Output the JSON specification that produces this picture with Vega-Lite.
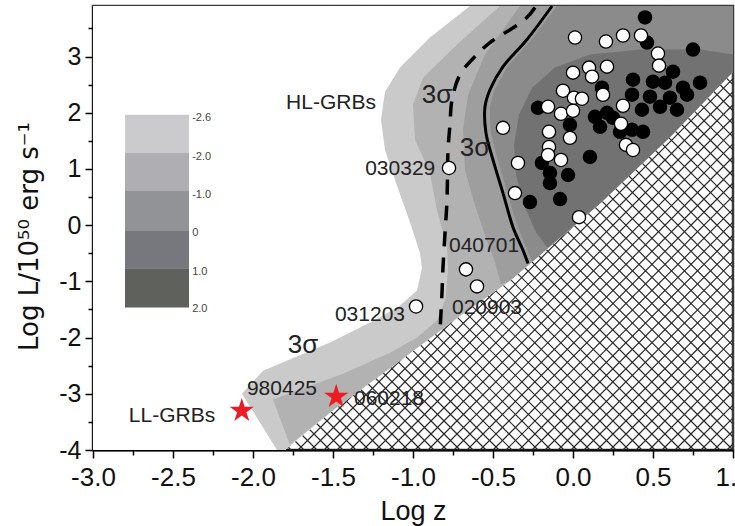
{
 "$schema": "https://vega.github.io/schema/vega-lite/v6.json",
 "width": 640, "height": 444,
 "autosize": {"type": "none"},
 "padding": {"left": 93, "top": 6, "right": 2, "bottom": 76},
 "background": "white",
 "config": {"view": {"stroke": "#3a3a3a", "strokeWidth": 2.5}, "font": "Liberation Sans"},
 "resolve": {"axis": {"x": "independent", "y": "independent"}},
 "datasets": {
  "polyData": [
   {"band":"w","i":0,"x":-3,"y":3.9},{"band":"w","i":1,"x":-3,"y":-4},{"band":"w","i":2,"x":-1.8,"y":-4},{"band":"w","i":3,"x":-1.49,"y":-3.27},{"band":"w","i":4,"x":-1.1,"y":-2.45},{"band":"w","i":5,"x":-0.71,"y":-1.62},{"band":"w","i":6,"x":-0.39,"y":-0.98},{"band":"w","i":7,"x":0.17,"y":0.39},{"band":"w","i":8,"x":0.6,"y":1.55},{"band":"w","i":9,"x":1.0,"y":2.73},{"band":"w","i":10,"x":1.0,"y":3.9},
   {"band":"b1","i":0,"x":-0.644,"y":3.9},{"band":"b1","i":1,"x":-0.894,"y":3.339},{"band":"b1","i":2,"x":-1.081,"y":2.804},{"band":"b1","i":3,"x":-1.175,"y":2.375},{"band":"b1","i":4,"x":-1.2,"y":1.875},{"band":"b1","i":5,"x":-1.175,"y":1.339},{"band":"b1","i":6,"x":-1.1125,"y":0.804},{"band":"b1","i":7,"x":-1.019,"y":0.054},{"band":"b1","i":8,"x":-0.956,"y":-0.5},{"band":"b1","i":9,"x":-0.944,"y":-0.768},{"band":"b1","i":10,"x":-0.975,"y":-1.16},{"band":"b1","i":11,"x":-1.081,"y":-1.43},{"band":"b1","i":12,"x":-1.206,"y":-1.643},{"band":"b1","i":13,"x":-1.519,"y":-2.089},{"band":"b1","i":14,"x":-1.9375,"y":-2.589},{"band":"b1","i":15,"x":-2.069,"y":-3.0},{"band":"b1","i":16,"x":-1.85,"y":-4},{"band":"b1","i":17,"x":-1.8,"y":-4},{"band":"b1","i":18,"x":-1.49,"y":-3.27},{"band":"b1","i":19,"x":-1.1,"y":-2.45},{"band":"b1","i":20,"x":-0.71,"y":-1.62},{"band":"b1","i":21,"x":-0.39,"y":-0.98},{"band":"b1","i":22,"x":0.17,"y":0.39},{"band":"b1","i":23,"x":0.6,"y":1.55},{"band":"b1","i":24,"x":1.0,"y":2.73},{"band":"b1","i":25,"x":1.0,"y":3.9},
   {"band":"b2","i":0,"x":-0.456,"y":3.9},{"band":"b2","i":1,"x":-0.725,"y":3.214},{"band":"b2","i":2,"x":-0.9375,"y":2.625},{"band":"b2","i":3,"x":-1.0,"y":2.143},{"band":"b2","i":4,"x":-0.9875,"y":1.518},{"band":"b2","i":5,"x":-0.894,"y":0.929},{"band":"b2","i":6,"x":-0.85,"y":0.268},{"band":"b2","i":7,"x":-0.7875,"y":-0.393},{"band":"b2","i":8,"x":-0.781,"y":-0.75},{"band":"b2","i":9,"x":-0.794,"y":-1.286},{"band":"b2","i":10,"x":-0.85,"y":-1.696},{"band":"b2","i":11,"x":-0.975,"y":-2.0},{"band":"b2","i":12,"x":-1.144,"y":-2.27},{"band":"b2","i":13,"x":-1.4375,"y":-2.643},{"band":"b2","i":14,"x":-1.875,"y":-3.1},{"band":"b2","i":15,"x":-1.77,"y":-3.9},{"band":"b2","i":16,"x":-1.49,"y":-3.27},{"band":"b2","i":17,"x":-1.1,"y":-2.45},{"band":"b2","i":18,"x":-0.71,"y":-1.62},{"band":"b2","i":19,"x":-0.39,"y":-0.98},{"band":"b2","i":20,"x":0.17,"y":0.39},{"band":"b2","i":21,"x":0.6,"y":1.55},{"band":"b2","i":22,"x":1.0,"y":2.73},{"band":"b2","i":23,"x":1.0,"y":3.9},
   {"band":"b3","i":0,"x":-0.331,"y":3.9},{"band":"b3","i":1,"x":-0.55,"y":3.036},{"band":"b3","i":2,"x":-0.656,"y":2.321},{"band":"b3","i":3,"x":-0.6875,"y":1.696},{"band":"b3","i":4,"x":-0.675,"y":0.982},{"band":"b3","i":5,"x":-0.6125,"y":0.357},{"band":"b3","i":6,"x":-0.55,"y":-0.179},{"band":"b3","i":7,"x":-0.4875,"y":-0.661},{"band":"b3","i":8,"x":-0.45,"y":-1.05},{"band":"b3","i":9,"x":-0.39,"y":-0.98},{"band":"b3","i":10,"x":0.17,"y":0.39},{"band":"b3","i":11,"x":0.6,"y":1.55},{"band":"b3","i":12,"x":1.0,"y":2.73},{"band":"b3","i":13,"x":1.0,"y":3.9},
   {"band":"b4","i":0,"x":-0.1,"y":3.9},{"band":"b4","i":1,"x":-0.26,"y":3.304},{"band":"b4","i":2,"x":-0.41,"y":2.821},{"band":"b4","i":3,"x":-0.49,"y":2.41},{"band":"b4","i":4,"x":-0.52,"y":2.107},{"band":"b4","i":5,"x":-0.514,"y":1.643},{"band":"b4","i":6,"x":-0.47,"y":1.161},{"band":"b4","i":7,"x":-0.41,"y":0.571},{"band":"b4","i":8,"x":-0.345,"y":-0.036},{"band":"b4","i":9,"x":-0.285,"y":-0.446},{"band":"b4","i":10,"x":-0.255,"y":-0.65},{"band":"b4","i":11,"x":0.17,"y":0.39},{"band":"b4","i":12,"x":0.6,"y":1.55},{"band":"b4","i":13,"x":1.0,"y":2.73},{"band":"b4","i":14,"x":1.0,"y":3.9},
   {"band":"b5","i":0,"x":1.0,"y":3.036},{"band":"b5","i":1,"x":0.794,"y":3.125},{"band":"b5","i":2,"x":0.419,"y":3.125},{"band":"b5","i":3,"x":0.106,"y":3.036},{"band":"b5","i":4,"x":-0.1125,"y":2.804},{"band":"b5","i":5,"x":-0.256,"y":2.446},{"band":"b5","i":6,"x":-0.3375,"y":1.964},{"band":"b5","i":7,"x":-0.369,"y":1.429},{"band":"b5","i":8,"x":-0.356,"y":0.893},{"band":"b5","i":9,"x":-0.306,"y":0.357},{"band":"b5","i":10,"x":-0.231,"y":-0.125},{"band":"b5","i":11,"x":-0.16,"y":-0.4},{"band":"b5","i":12,"x":0.17,"y":0.39},{"band":"b5","i":13,"x":0.6,"y":1.55},{"band":"b5","i":14,"x":1.0,"y":2.73}
  ],
  "curveData": [
   {"line":"dash","i":0,"x":-0.2375,"y":3.875},{"line":"dash","i":1,"x":-0.3,"y":3.661},{"line":"dash","i":2,"x":-0.519,"y":3.25},{"line":"dash","i":3,"x":-0.6,"y":3.036},{"line":"dash","i":4,"x":-0.706,"y":2.679},{"line":"dash","i":5,"x":-0.756,"y":2.232},{"line":"dash","i":6,"x":-0.769,"y":1.786},{"line":"dash","i":7,"x":-0.781,"y":1.339},{"line":"dash","i":8,"x":-0.7875,"y":0.446},{"line":"dash","i":9,"x":-0.8,"y":-0.143},{"line":"dash","i":10,"x":-0.8125,"y":-0.75},{"line":"dash","i":11,"x":-0.819,"y":-1.214},{"line":"dash","i":12,"x":-0.831,"y":-1.875},
   {"line":"solid","i":0,"x":-0.131,"y":3.9},{"line":"solid","i":1,"x":-0.2875,"y":3.304},{"line":"solid","i":2,"x":-0.4375,"y":2.821},{"line":"solid","i":3,"x":-0.519,"y":2.41},{"line":"solid","i":4,"x":-0.55,"y":2.107},{"line":"solid","i":5,"x":-0.544,"y":1.643},{"line":"solid","i":6,"x":-0.5,"y":1.161},{"line":"solid","i":7,"x":-0.4375,"y":0.571},{"line":"solid","i":8,"x":-0.375,"y":-0.036},{"line":"solid","i":9,"x":-0.3125,"y":-0.446},{"line":"solid","i":10,"x":-0.281,"y":-0.68}
  ],
  "hatchLines": [
   {"x":-1.8,"y":-4,"x2":0.965,"y2":3.9},{"x":-1.71875,"y":-4,"x2":1,"y2":3.768},{"x":-1.6375,"y":-4,"x2":1,"y2":3.536},{"x":-1.55625,"y":-4,"x2":1,"y2":3.304},{"x":-1.475,"y":-4,"x2":1,"y2":3.071},{"x":-1.39375,"y":-4,"x2":1,"y2":2.839},{"x":-1.3125,"y":-4,"x2":1,"y2":2.607},{"x":-1.23125,"y":-4,"x2":1,"y2":2.375},{"x":-1.15,"y":-4,"x2":1,"y2":2.143},{"x":-1.06875,"y":-4,"x2":1,"y2":1.911},{"x":-0.9875,"y":-4,"x2":1,"y2":1.679},{"x":-0.90625,"y":-4,"x2":1,"y2":1.446},{"x":-0.825,"y":-4,"x2":1,"y2":1.214},{"x":-0.74375,"y":-4,"x2":1,"y2":0.982},{"x":-0.6625,"y":-4,"x2":1,"y2":0.75},{"x":-0.58125,"y":-4,"x2":1,"y2":0.518},{"x":-0.5,"y":-4,"x2":1,"y2":0.286},{"x":-0.41875,"y":-4,"x2":1,"y2":0.054},{"x":-0.3375,"y":-4,"x2":1,"y2":-0.179},{"x":-0.25625,"y":-4,"x2":1,"y2":-0.411},{"x":-0.175,"y":-4,"x2":1,"y2":-0.643},{"x":-0.09375,"y":-4,"x2":1,"y2":-0.875},{"x":-0.0125,"y":-4,"x2":1,"y2":-1.107},{"x":0.06875,"y":-4,"x2":1,"y2":-1.339},{"x":0.15,"y":-4,"x2":1,"y2":-1.571},{"x":0.23125,"y":-4,"x2":1,"y2":-1.804},{"x":0.3125,"y":-4,"x2":1,"y2":-2.036},{"x":0.39375,"y":-4,"x2":1,"y2":-2.268},{"x":0.475,"y":-4,"x2":1,"y2":-2.5},{"x":0.55625,"y":-4,"x2":1,"y2":-2.732},{"x":0.6375,"y":-4,"x2":1,"y2":-2.964},{"x":0.71875,"y":-4,"x2":1,"y2":-3.196},{"x":0.8,"y":-4,"x2":1,"y2":-3.429},{"x":0.88125,"y":-4,"x2":1,"y2":-3.661},{"x":0.9625,"y":-4,"x2":1,"y2":-3.893},
   {"x":1.0,"y":-4,"x2":-1.775,"y2":3.9},{"x":0.91875,"y":-4,"x2":-1.85625,"y2":3.9},{"x":0.8375,"y":-4,"x2":-1.9375,"y2":3.9},{"x":0.75625,"y":-4,"x2":-2.01875,"y2":3.9},{"x":0.675,"y":-4,"x2":-2.1,"y2":3.9},{"x":0.59375,"y":-4,"x2":-2.18125,"y2":3.9},{"x":0.5125,"y":-4,"x2":-2.2625,"y2":3.9},{"x":0.43125,"y":-4,"x2":-2.34375,"y2":3.9},{"x":0.35,"y":-4,"x2":-2.425,"y2":3.9},{"x":0.26875,"y":-4,"x2":-2.50625,"y2":3.9},{"x":0.1875,"y":-4,"x2":-2.5875,"y2":3.9},{"x":0.10625,"y":-4,"x2":-2.66875,"y2":3.9},{"x":0.025,"y":-4,"x2":-2.75,"y2":3.9},{"x":-0.05625,"y":-4,"x2":-2.83125,"y2":3.9},{"x":-0.1375,"y":-4,"x2":-2.9125,"y2":3.9},{"x":-0.21875,"y":-4,"x2":-2.99375,"y2":3.9},{"x":-0.3,"y":-4,"x2":-3,"y2":3.714},{"x":-0.38125,"y":-4,"x2":-3,"y2":3.482},{"x":-0.4625,"y":-4,"x2":-3,"y2":3.25},{"x":-0.54375,"y":-4,"x2":-3,"y2":3.018},{"x":-0.625,"y":-4,"x2":-3,"y2":2.786},{"x":-0.70625,"y":-4,"x2":-3,"y2":2.554},{"x":-0.7875,"y":-4,"x2":-3,"y2":2.321},{"x":-0.86875,"y":-4,"x2":-3,"y2":2.089},{"x":-0.95,"y":-4,"x2":-3,"y2":1.857},{"x":-1.03125,"y":-4,"x2":-3,"y2":1.625},{"x":-1.1125,"y":-4,"x2":-3,"y2":1.393},{"x":-1.19375,"y":-4,"x2":-3,"y2":1.161},{"x":-1.275,"y":-4,"x2":-3,"y2":0.929},{"x":-1.35625,"y":-4,"x2":-3,"y2":0.696},{"x":-1.4375,"y":-4,"x2":-3,"y2":0.464},{"x":-1.51875,"y":-4,"x2":-3,"y2":0.232},{"x":-1.6,"y":-4,"x2":-3,"y2":0.0},{"x":-1.68125,"y":-4,"x2":-3,"y2":-0.232},{"x":-1.7625,"y":-4,"x2":-3,"y2":-0.464},
   {"x":1,"y":-3.768,"x2":-1.684,"y2":3.9},{"x":1,"y":-3.536,"x2":-1.603,"y2":3.9},{"x":1,"y":-3.304,"x2":-1.521,"y2":3.9},{"x":1,"y":-3.071,"x2":-1.44,"y2":3.9},{"x":1,"y":-2.839,"x2":-1.359,"y2":3.9},{"x":1,"y":-2.607,"x2":-1.277,"y2":3.9},{"x":1,"y":-2.375,"x2":-1.196,"y2":3.9},{"x":1,"y":-2.143,"x2":-1.115,"y2":3.9},{"x":1,"y":-1.911,"x2":-1.034,"y2":3.9},{"x":1,"y":-1.679,"x2":-0.953,"y2":3.9},{"x":1,"y":-1.446,"x2":-0.871,"y2":3.9},{"x":1,"y":-1.214,"x2":-0.79,"y2":3.9},{"x":1,"y":-0.982,"x2":-0.709,"y2":3.9},{"x":1,"y":-0.75,"x2":-0.628,"y2":3.9},{"x":1,"y":-0.518,"x2":-0.546,"y2":3.9},{"x":1,"y":-0.286,"x2":-0.465,"y2":3.9},{"x":1,"y":-0.054,"x2":-0.384,"y2":3.9},{"x":1,"y":0.179,"x2":-0.302,"y2":3.9},{"x":1,"y":0.411,"x2":-0.221,"y2":3.9},{"x":1,"y":0.643,"x2":-0.14,"y2":3.9},{"x":1,"y":0.875,"x2":-0.059,"y2":3.9},{"x":1,"y":1.107,"x2":0.022,"y2":3.9},{"x":1,"y":1.339,"x2":0.104,"y2":3.9},{"x":1,"y":1.571,"x2":0.185,"y2":3.9},{"x":1,"y":1.804,"x2":0.266,"y2":3.9},{"x":1,"y":2.036,"x2":0.348,"y2":3.9},{"x":1,"y":2.268,"x2":0.429,"y2":3.9},{"x":1,"y":2.5,"x2":0.51,"y2":3.9},{"x":1,"y":2.732,"x2":0.591,"y2":3.9}
  ],
  "blackPts": [
   {"x":0.45,"y":3.696},{"x":0.4625,"y":3.25},{"x":0.75,"y":3.125},{"x":0.625,"y":2.732},{"x":0.375,"y":2.589},{"x":0.5,"y":2.554},{"x":0.575,"y":2.536},{"x":0.6875,"y":2.446},{"x":0.794,"y":2.536},{"x":0.181,"y":2.446},{"x":0.369,"y":2.321},{"x":0.481,"y":2.286},{"x":0.606,"y":2.268},{"x":-0.219,"y":2.089},{"x":0.431,"y":2.054},{"x":0.544,"y":2.107},{"x":0.2125,"y":2.0},{"x":0.169,"y":1.75},{"x":0.369,"y":1.696},{"x":0.4375,"y":1.661},{"x":-0.019,"y":1.786},{"x":0.106,"y":1.214},{"x":-0.194,"y":1.107},{"x":-0.144,"y":0.929},{"x":-0.031,"y":0.893},{"x":-0.144,"y":0.75},{"x":-0.269,"y":0.411},{"x":-0.081,"y":0.464},{"x":0.65,"y":2.054},{"x":0.7125,"y":2.321},{"x":0.1375,"y":1.929},{"x":0.25,"y":1.911},{"x":0.294,"y":1.661}
  ],
  "whitePts": [
   {"x":0.0125,"y":3.339},{"x":0.206,"y":3.268},{"x":0.3125,"y":3.375},{"x":0.425,"y":3.375},{"x":0.531,"y":3.054},{"x":0.5375,"y":2.839},{"x":0.0,"y":2.714},{"x":0.1,"y":2.804},{"x":0.119,"y":2.643},{"x":0.2125,"y":2.821},{"x":-0.0625,"y":2.393},{"x":0.006,"y":2.268},{"x":0.056,"y":2.25},{"x":0.1875,"y":2.321},{"x":-0.156,"y":2.107},{"x":-0.075,"y":1.982},{"x":0.0,"y":2.036},{"x":0.3125,"y":2.125},{"x":0.3,"y":1.804},{"x":-0.4375,"y":1.732},{"x":-0.15,"y":1.661},{"x":-0.019,"y":1.554},{"x":-0.15,"y":1.393},{"x":0.331,"y":1.429},{"x":0.375,"y":1.339},{"x":-0.156,"y":1.25},{"x":-0.075,"y":1.161},{"x":-0.344,"y":1.107},{"x":-0.3625,"y":0.571},{"x":0.0375,"y":0.143},{"x":-0.775,"y":1.018},{"x":-0.669,"y":-0.786},{"x":-0.6,"y":-1.089},{"x":-0.981,"y":-1.446}
  ],
  "starPts": [{"name":"980425","x":-2.07,"y":-3.3},{"name":"060218","x":-1.48,"y":-3.05}],
  "annot": [
   {"kind":"id","text":"HL-GRBs","x":-1.5125,"y":2.18},
   {"kind":"id","text":"LL-GRBs","x":-2.506,"y":-3.39},
   {"kind":"id","text":"980425","x":-1.819,"y":-2.91},
   {"kind":"id","text":"060218","x":-1.15,"y":-3.09},
   {"kind":"id","text":"031203","x":-1.269,"y":-1.59},
   {"kind":"id","text":"020903","x":-0.5375,"y":-1.48},
   {"kind":"id","text":"040701","x":-0.556,"y":-0.375},
   {"kind":"id","text":"030329","x":-1.08,"y":1.0},
   {"kind":"sigma","text":"3σ","x":-0.85,"y":2.32},
   {"kind":"sigma","text":"3σ","x":-0.6125,"y":1.375},
   {"kind":"sigma","text":"3σ","x":-1.6875,"y":-2.14}
  ],
  "legendBands": [
   {"level":"L1","x":-2.8,"x2":-2.4,"y":1.964,"y2":1.286},
   {"level":"L2","x":-2.8,"x2":-2.4,"y":1.286,"y2":0.607},
   {"level":"L3","x":-2.8,"x2":-2.4,"y":0.607,"y2":-0.089},
   {"level":"L4","x":-2.8,"x2":-2.4,"y":-0.089,"y2":-0.768},
   {"level":"L5","x":-2.8,"x2":-2.4,"y":-0.768,"y2":-1.464}
  ],
  "legendText": [
   {"text":"-2.6","x":-2.38,"y":1.911},{"text":"-2.0","x":-2.38,"y":1.214},{"text":"-1.0","x":-2.38,"y":0.536},{"text":"0","x":-2.38,"y":-0.143},{"text":"1.0","x":-2.38,"y":-0.839},{"text":"2.0","x":-2.38,"y":-1.5}
  ]
 },
 "layer": [
  {
   "data": {"name": "hatchLines"},
   "mark": {"type": "rule", "stroke": "#2a2a2a", "strokeWidth": 1.2},
   "encoding": {
    "x": {"field": "x", "type": "quantitative", "scale": {"domain": [-3, 1], "nice": false, "zero": false},
     "axis": {"orient": "bottom", "title": "Log z", "values": [-3,-2.5,-2,-1.5,-1,-0.5,0,0.5,1],
      "labelExpr": "(datum.value < 0 ? '-' : '') + format(abs(datum.value), '.1f')",
      "tickSize": 8, "tickColor": "black", "tickWidth": 1.5, "domainColor": "black", "domainWidth": 2, "grid": false,
      "labelFontSize": 26, "labelColor": "#111", "labelPadding": 6, "labelFlush": false, "labelOverlap": false,
      "titleFontSize": 27, "titleFontWeight": "normal", "titleColor": "#111", "titleX": 320, "titleY": 61, "titleBaseline": "middle", "titleAlign": "center"}},
    "y": {"field": "y", "type": "quantitative", "scale": {"domain": [-4, 3.9], "nice": false, "zero": false},
     "axis": {"orient": "left", "title": "Log L/10⁵⁰ erg s⁻¹", "values": [-4,-3,-2,-1,0,1,2,3],
      "labelExpr": "'' + datum.value",
      "tickSize": 8, "tickColor": "black", "tickWidth": 1.5, "domainColor": "black", "domainWidth": 2, "grid": false,
      "labelFontSize": 25, "labelColor": "#111", "labelPadding": 4, "labelOverlap": false,
      "titleFont": "DejaVu Sans", "titleFontSize": 26, "titleFontWeight": "normal", "titleColor": "#111", "titleX": -64, "titleY": 230, "titleAngle": -90, "titleBaseline": "middle", "titleAlign": "center"}},
    "x2": {"field": "x2"},
    "y2": {"field": "y2"}
   }
  },
  {
   "data": {"name": "polyData"},
   "transform": [{"filter": "datum.band === 'w'"}],
   "mark": {"type": "line", "interpolate": "linear-closed", "fill": "white", "strokeWidth": 0},
   "encoding": {
    "x": {"field": "x", "type": "quantitative", "axis": {"orient": "bottom", "values": [-2.75,-2.25,-1.75,-1.25,-0.75,-0.25,0.25,0.75], "tickSize": 5, "tickColor": "black", "tickWidth": 1.5, "labels": false, "domain": false, "grid": false, "title": null}},
    "y": {"field": "y", "type": "quantitative", "axis": {"orient": "left", "values": [-3.5,-2.5,-1.5,-0.5,0.5,1.5,2.5,3.5], "tickSize": 5, "tickColor": "black", "tickWidth": 1.5, "labels": false, "domain": false, "grid": false, "title": null}},
    "order": {"field": "i"}}
  },
  {
   "data": {"name": "polyData"},
   "transform": [{"filter": "datum.band === 'b1'"}],
   "mark": {"type": "line", "interpolate": "linear-closed", "fill": "#cacaca", "strokeWidth": 0},
   "encoding": {"x": {"field": "x", "type": "quantitative", "axis": null}, "y": {"field": "y", "type": "quantitative", "axis": null}, "order": {"field": "i"}}
  },
  {
   "data": {"name": "polyData"},
   "transform": [{"filter": "datum.band === 'b2'"}],
   "mark": {"type": "line", "interpolate": "linear-closed", "fill": "#b2b2b3", "strokeWidth": 0},
   "encoding": {"x": {"field": "x", "type": "quantitative", "axis": null}, "y": {"field": "y", "type": "quantitative", "axis": null}, "order": {"field": "i"}}
  },
  {
   "data": {"name": "polyData"},
   "transform": [{"filter": "datum.band === 'b3'"}],
   "mark": {"type": "line", "interpolate": "linear-closed", "fill": "#9e9e9f", "strokeWidth": 0},
   "encoding": {"x": {"field": "x", "type": "quantitative", "axis": null}, "y": {"field": "y", "type": "quantitative", "axis": null}, "order": {"field": "i"}}
  },
  {
   "data": {"name": "polyData"},
   "transform": [{"filter": "datum.band === 'b4'"}],
   "mark": {"type": "line", "interpolate": "linear-closed", "fill": "#8b8b8c", "strokeWidth": 0},
   "encoding": {"x": {"field": "x", "type": "quantitative", "axis": null}, "y": {"field": "y", "type": "quantitative", "axis": null}, "order": {"field": "i"}}
  },
  {
   "data": {"name": "polyData"},
   "transform": [{"filter": "datum.band === 'b5'"}],
   "mark": {"type": "line", "interpolate": "linear-closed", "fill": "#727272", "strokeWidth": 0},
   "encoding": {"x": {"field": "x", "type": "quantitative", "axis": null}, "y": {"field": "y", "type": "quantitative", "axis": null}, "order": {"field": "i"}}
  },
  {
   "data": {"name": "curveData"},
   "transform": [{"filter": "datum.line === 'dash'"}],
   "mark": {"type": "line", "interpolate": "catmull-rom", "stroke": "black", "strokeWidth": 3.5, "strokeDash": [15, 11]},
   "encoding": {"x": {"field": "x", "type": "quantitative", "axis": null}, "y": {"field": "y", "type": "quantitative", "axis": null}, "order": {"field": "i"}}
  },
  {
   "data": {"name": "curveData"},
   "transform": [{"filter": "datum.line === 'solid'"}],
   "mark": {"type": "line", "interpolate": "catmull-rom", "stroke": "black", "strokeWidth": 3},
   "encoding": {"x": {"field": "x", "type": "quantitative", "axis": null}, "y": {"field": "y", "type": "quantitative", "axis": null}, "order": {"field": "i"}}
  },
  {
   "data": {"name": "blackPts"},
   "mark": {"type": "point", "shape": "circle", "filled": true, "fill": "black", "size": 210, "opacity": 1},
   "encoding": {"x": {"field": "x", "type": "quantitative", "axis": null}, "y": {"field": "y", "type": "quantitative", "axis": null}}
  },
  {
   "data": {"name": "whitePts"},
   "mark": {"type": "point", "shape": "circle", "filled": true, "fill": "white", "stroke": "black", "strokeWidth": 1.3, "size": 175, "opacity": 1},
   "encoding": {"x": {"field": "x", "type": "quantitative", "axis": null}, "y": {"field": "y", "type": "quantitative", "axis": null}}
  },
  {
   "data": {"name": "starPts"},
   "mark": {"type": "point", "shape": "M0,-1L0.225,-0.309L0.951,-0.309L0.363,0.118L0.588,0.809L0,0.382L-0.588,0.809L-0.363,0.118L-0.951,-0.309L-0.225,-0.309Z", "filled": true, "fill": "#ec1c24", "size": 650, "opacity": 1},
   "encoding": {"x": {"field": "x", "type": "quantitative", "axis": null}, "y": {"field": "y", "type": "quantitative", "axis": null}}
  },
  {
   "data": {"name": "annot"},
   "transform": [{"filter": "datum.kind === 'id'"}],
   "mark": {"type": "text", "fontSize": 21, "color": "#222", "align": "center", "baseline": "middle", "font": "Liberation Sans"},
   "encoding": {"x": {"field": "x", "type": "quantitative", "axis": null}, "y": {"field": "y", "type": "quantitative", "axis": null}, "text": {"field": "text"}}
  },
  {
   "data": {"name": "annot"},
   "transform": [{"filter": "datum.kind === 'sigma'"}],
   "mark": {"type": "text", "fontSize": 26, "color": "#222", "align": "center", "baseline": "middle", "font": "Liberation Sans"},
   "encoding": {"x": {"field": "x", "type": "quantitative", "axis": null}, "y": {"field": "y", "type": "quantitative", "axis": null}, "text": {"field": "text"}}
  },
  {
   "data": {"name": "legendBands"},
   "mark": {"type": "rect", "strokeWidth": 0},
   "encoding": {
    "x": {"field": "x", "type": "quantitative", "axis": null}, "x2": {"field": "x2"},
    "y": {"field": "y", "type": "quantitative", "axis": null}, "y2": {"field": "y2"},
    "fill": {"field": "level", "type": "nominal", "legend": null, "scale": {"domain": ["L1","L2","L3","L4","L5"], "range": ["#cbcacc","#aeaeb3","#929396","#76787d","#5f615d"]}}
   }
  },
  {
   "data": {"name": "legendText"},
   "mark": {"type": "text", "fontSize": 11, "color": "#444", "align": "left", "baseline": "middle", "font": "Liberation Sans"},
   "encoding": {"x": {"field": "x", "type": "quantitative", "axis": null}, "y": {"field": "y", "type": "quantitative", "axis": null}, "text": {"field": "text"}}
  }
 ]
}
